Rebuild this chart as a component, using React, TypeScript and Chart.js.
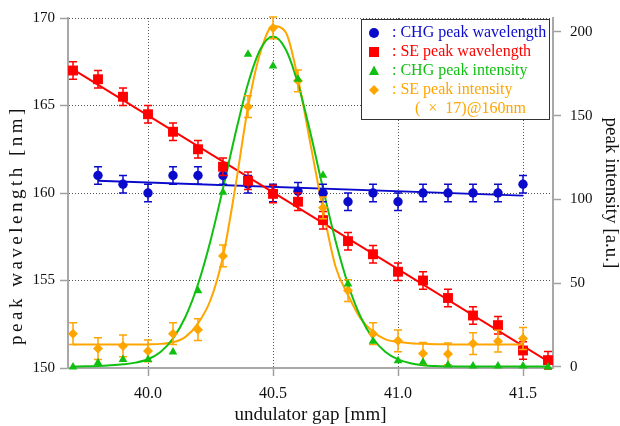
import React, { useEffect, useRef } from 'react';
import { Chart, registerables } from 'chart.js';

Chart.register(...registerables);

// ---------- data ----------
const gapMm = [39.7, 39.8, 39.9, 40.0, 40.1, 40.2, 40.3, 40.4, 40.5, 40.6, 40.7, 40.8, 40.9, 41.0, 41.1, 41.2, 41.3, 41.4, 41.5, 41.6];
const seWavelength = [167.0, 166.5, 165.5, 164.5, 163.5, 162.5, 161.5, 160.7, 159.95, 159.5, 158.45, 157.25, 156.5, 155.5, 155.0, 154.0, 153.0, 152.45, 151.0, 150.45];
const chgGap = [39.8, 39.9, 40.0, 40.1, 40.2, 40.3, 40.4, 40.5, 40.6, 40.7, 40.8, 40.9, 41.0, 41.1, 41.2, 41.3, 41.4, 41.5];
const chgWavelength = [161.0, 160.5, 160.0, 161.0, 161.0, 161.0, 160.5, 160.0, 160.1, 160.0, 159.5, 160.0, 159.5, 160.0, 160.0, 160.0, 160.0, 160.5];
const chgIntensity = [0, 2.5, 4.5, 4.5, 9, 45.5, 104.3, 186.6, 179.7, 171.8, 114.4, 49.5, 15.4, 3.8, 2.8, 1.2, 0.6, 0.6, 0.6, 0];
const seGap = [39.7, 39.8, 39.9, 40.0, 40.1, 40.2, 40.3, 40.4, 40.5, 40.6, 40.7, 40.8, 40.9, 41.0, 41.1, 41.2, 41.3, 41.4, 41.5];
const seIntensity = [19.9, 11.0, 12.6, 9.6, 19.9, 22.3, 66.3, 155.4, 202.4, 170.8, 95, 45.6, 19.9, 15.6, 8.1, 7.8, 14.0, 15.4, 17.0];

const wavelengthError = 0.5;
const intensityError = 6.5;

// fitted lines / curves
const seFitGap = [39.7, 41.62];
const seFitWavelength = [167.07, 150.2];
const chgFitGap = [39.8, 41.5];
const chgFitWavelength = [160.7, 159.85];
const curveGap = [39.7, 39.75, 39.8, 39.85, 39.9, 39.95, 40.0, 40.05, 40.1, 40.15, 40.2, 40.25, 40.3, 40.35, 40.4, 40.45, 40.5, 40.55, 40.6, 40.65, 40.7, 40.75, 40.8, 40.85, 40.9, 40.95, 41.0, 41.05, 41.1, 41.15, 41.2, 41.25, 41.3, 41.35, 41.4, 41.45, 41.5, 41.55, 41.6];
const chgIntensityFit = [0.3, 0.4, 0.6, 1.0, 1.6, 2.6, 4.6, 8.9, 17.0, 30.0, 49.4, 75.4, 106.6, 139.5, 169.1, 189.8, 197.3, 189.8, 169.1, 139.5, 106.6, 75.4, 49.4, 30.0, 17.0, 8.9, 4.5, 2.2, 1.1, 0.6, 0.4, 0.3, 0.3, 0.3, 0.3, 0.3, 0.3, 0.3, 0.3];
const seIntensityFit = [13.4, 13.4, 13.4, 13.4, 13.4, 13.4, 13.5, 13.8, 14.8, 18, 26, 40, 66, 108, 155, 188, 203.5, 200, 172, 133, 94, 60, 43, 29, 21, 16.5, 15, 14.2, 13.8, 13.6, 13.5, 13.4, 13.4, 13.4, 13.4, 13.4, 13.4, null, null];

const xTicks = [40.0, 40.5, 41.0, 41.5];
const wavelengthTicks = [150, 155, 160, 165, 170];
const intensityTicks = [0, 50, 100, 150, 200];

const leftTitle = 'peak wavelength [nm]';
const legendLabels = [': CHG peak wavelength', ': SE peak wavelength', ': CHG peak intensity', ': SE peak intensity'];
const legendNote = '(  \u00d7  17)@160nm';

// ---------- styles ----------
const BLUE = '#0a0acc';
const RED = '#ff0000';
const GREEN = '#10c010';
const ORANGE = '#ffa500';
const FONT = "'Liberation Serif', 'Times New Roman', serif";

const pts = (xs: number[], ys: (number | null)[]) => xs.map((x, i) => ({ x, y: ys[i] }));

const errorBarPlugin = {
  id: 'errorBars',
  beforeDatasetDraw(chart: any, args: any) {
    const ds = chart.data.datasets[args.index];
    if (ds.errorBar == null) return;
    const meta = args.meta;
    const yScale = chart.scales[meta.yAxisID];
    const ctx = chart.ctx;
    ctx.save();
    ctx.strokeStyle = ds.borderColor;
    ctx.lineWidth = 1.5;
    meta.data.forEach((el: any, i: number) => {
      const v = ds.data[i].y;
      const x = el.x;
      const yt = yScale.getPixelForValue(v + ds.errorBar);
      const yb = yScale.getPixelForValue(v - ds.errorBar);
      ctx.beginPath();
      ctx.moveTo(x, yt);
      ctx.lineTo(x, yb);
      ctx.moveTo(x - 4, yt);
      ctx.lineTo(x + 4, yt);
      ctx.moveTo(x - 4, yb);
      ctx.lineTo(x + 4, yb);
      ctx.stroke();
    });
    ctx.restore();
  },
};

function drawMarker(ctx: CanvasRenderingContext2D, style: string, x: number, y: number, color: string) {
  ctx.fillStyle = color;
  ctx.beginPath();
  if (style === 'circle') {
    ctx.arc(x, y, 5, 0, Math.PI * 2);
  } else if (style === 'rect') {
    ctx.rect(x - 5, y - 5, 10, 10);
  } else if (style === 'triangle') {
    ctx.moveTo(x, y - 5.5);
    ctx.lineTo(x + 5, y + 4);
    ctx.lineTo(x - 5, y + 4);
    ctx.closePath();
  } else {
    ctx.moveTo(x, y - 5);
    ctx.lineTo(x + 5, y);
    ctx.lineTo(x, y + 5);
    ctx.lineTo(x - 5, y);
    ctx.closePath();
  }
  ctx.fill();
}

const legendPlugin = {
  id: 'boxLegend',
  afterDraw(chart: any) {
    const { ctx, chartArea } = chart;
    const left = chartArea.right - 192;
    const top = chartArea.top + 1;
    const w = 188;
    const h = 100;
    ctx.save();
    ctx.fillStyle = '#ffffff';
    ctx.fillRect(left, top, w, h);
    ctx.strokeStyle = '#333333';
    ctx.lineWidth = 1;
    ctx.strokeRect(left + 0.5, top + 0.5, w, h);
    const colors = [BLUE, RED, GREEN, ORANGE];
    const styles = ['circle', 'rect', 'triangle', 'diamond'];
    ctx.font = `16px ${FONT}`;
    ctx.textBaseline = 'middle';
    ctx.textAlign = 'left';
    legendLabels.forEach((lab, i) => {
      const cy = top + 14 + i * 19;
      drawMarker(ctx, styles[i], left + 13, cy, colors[i]);
      ctx.fillStyle = colors[i];
      ctx.fillText(lab, left + 31, cy);
    });
    ctx.fillStyle = ORANGE;
    ctx.fillText(legendNote, left + 54, top + 14 + 4 * 19);
    ctx.restore();
  },
};

// left axis title, drawn with the wide letter spacing of the reference
const leftTitlePlugin = {
  id: 'leftTitle',
  afterDraw(chart: any) {
    const { ctx, chartArea } = chart;
    ctx.save();
    ctx.translate(17.5, (chartArea.top + chartArea.bottom) / 2 + 32);
    ctx.rotate(-Math.PI / 2);
    ctx.font = `19px ${FONT}`;
    (ctx as any).letterSpacing = '3.5px';
    ctx.fillStyle = '#111';
    ctx.textAlign = 'center';
    ctx.textBaseline = 'middle';
    ctx.fillText(leftTitle, 0, 0);
    ctx.restore();
  },
};

export default function App() {
  const ref = useRef<HTMLCanvasElement | null>(null);

  useEffect(() => {
    if (!ref.current) return;
    const gridCommon = {
      color: '#555555',
      lineWidth: 1,
      tickLength: 8,
      tickColor: '#a0a0a0',
      tickWidth: 1.5,
    };
    const borderCommon = { color: '#a8a8a8', width: 2, dash: [1, 2] };
    const chart = new Chart(ref.current, {
      type: 'line',
      data: {
        datasets: [
          {
            label: 'CHG peak intensity',
            data: pts(gapMm, chgIntensity),
            yAxisID: 'yI',
            showLine: false,
            pointStyle: 'triangle',
            pointRadius: 5,
            backgroundColor: GREEN,
            borderColor: GREEN,
            pointBorderWidth: 0,
            clip: false,
            order: 0,
          } as any,
          {
            label: 'SE peak intensity',
            data: pts(seGap, seIntensity),
            yAxisID: 'yI',
            showLine: false,
            pointStyle: 'rectRot',
            pointRadius: 5,
            backgroundColor: ORANGE,
            borderColor: ORANGE,
            pointBorderWidth: 0,
            errorBar: intensityError,
            clip: false,
            order: 1,
          } as any,
          {
            label: 'SE peak wavelength',
            data: pts(gapMm, seWavelength),
            yAxisID: 'y',
            showLine: false,
            pointStyle: 'rect',
            pointRadius: 7,
            backgroundColor: RED,
            borderColor: RED,
            pointBorderWidth: 0,
            errorBar: wavelengthError,
            clip: false,
            order: 2,
          } as any,
          {
            label: 'CHG peak wavelength',
            data: pts(chgGap, chgWavelength),
            yAxisID: 'y',
            showLine: false,
            pointStyle: 'circle',
            pointRadius: 4.7,
            backgroundColor: BLUE,
            borderColor: BLUE,
            pointBorderWidth: 0,
            errorBar: wavelengthError,
            clip: false,
            order: 3,
          } as any,
          {
            label: 'CHG intensity fit',
            data: pts(curveGap, chgIntensityFit),
            yAxisID: 'yI',
            borderColor: GREEN,
            borderWidth: 2,
            pointRadius: 0,
            cubicInterpolationMode: 'monotone',
            order: 4,
          } as any,
          {
            label: 'SE intensity fit',
            data: pts(curveGap, seIntensityFit),
            yAxisID: 'yI',
            borderColor: ORANGE,
            borderWidth: 2,
            pointRadius: 0,
            cubicInterpolationMode: 'monotone',
            spanGaps: false,
            order: 5,
          } as any,
          {
            label: 'SE wavelength fit',
            data: pts(seFitGap, seFitWavelength),
            yAxisID: 'y',
            borderColor: RED,
            borderWidth: 2,
            pointRadius: 0,
            order: 6,
          } as any,
          {
            label: 'CHG wavelength fit',
            data: pts(chgFitGap, chgFitWavelength),
            yAxisID: 'y',
            borderColor: BLUE,
            borderWidth: 2,
            pointRadius: 0,
            order: 7,
          } as any,
        ],
      },
      options: {
        responsive: false,
        animation: false,
        events: [],
        layout: { padding: { top: 15, left: 0, right: 0, bottom: 0 } },
        plugins: {
          legend: { display: false },
          tooltip: { enabled: false },
        },
        scales: {
          x: {
            type: 'linear',
            position: 'bottom',
            min: 39.68,
            max: 41.62,
            afterFit: (s: any) => { s.height = 58; },
            afterBuildTicks: (s: any) => { s.ticks = xTicks.map((v) => ({ value: v })); },
            ticks: {
              autoSkip: false,
              maxRotation: 0,
              padding: 8,
              color: '#111',
              font: { family: FONT, size: 16 },
              callback: (v: any) => Number(v).toFixed(1),
            },
            grid: gridCommon,
            border: borderCommon,
            title: {
              display: true,
              text: 'undulator gap [mm]',
              color: '#111',
              font: { family: FONT, size: 19, lineHeight: 1.2 },
              padding: { top: 0, bottom: 0 },
            },
          },
          y: {
            type: 'linear',
            position: 'left',
            min: 150,
            max: 170,
            afterFit: (s: any) => { s.width = 68; },
            afterBuildTicks: (s: any) => { s.ticks = wavelengthTicks.map((v) => ({ value: v })); },
            ticks: {
              autoSkip: false,
              padding: 5,
              color: '#111',
              font: { family: FONT, size: 15 },
            },
            grid: gridCommon,
            border: borderCommon,
            title: { display: false },
          },
          yI: {
            type: 'linear',
            position: 'right',
            min: -0.6,
            max: 208.3,
            afterFit: (s: any) => { s.width = 67; },
            afterBuildTicks: (s: any) => { s.ticks = intensityTicks.map((v) => ({ value: v })); },
            ticks: {
              autoSkip: false,
              padding: 9,
              color: '#111',
              font: { family: FONT, size: 15 },
            },
            grid: { ...gridCommon, drawOnChartArea: false },
            border: borderCommon,
            title: {
              display: true,
              text: 'peak intensity [a.u.]',
              color: '#111',
              font: { family: FONT, size: 19, lineHeight: 1 },
              padding: { top: 0, bottom: 0 },
            },
          },
        },
      } as any,
      plugins: [errorBarPlugin, legendPlugin, leftTitlePlugin],
    });
    return () => chart.destroy();
  }, []);

  return (
    <div style={{ position: 'fixed', left: 0, top: 0, width: 620, height: 426, background: '#fff' }}>
      <canvas ref={ref} width={620} height={426} style={{ display: 'block' }} />
    </div>
  );
}
